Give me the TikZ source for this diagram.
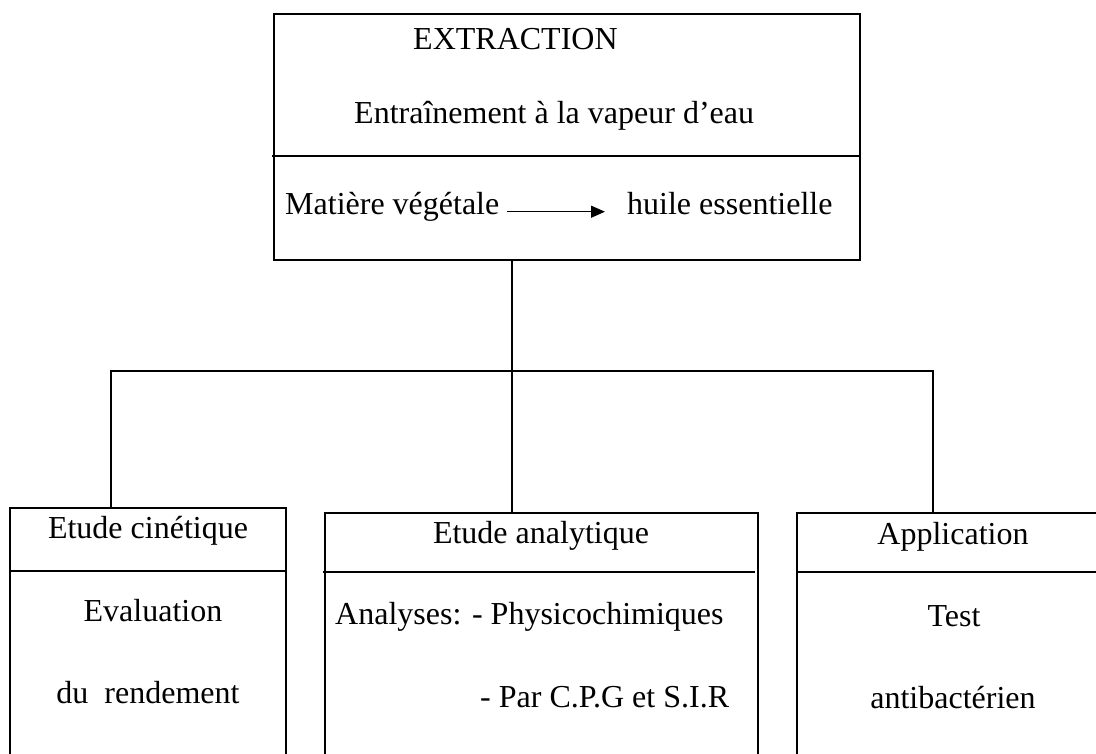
\documentclass[tikz,border=0pt]{standalone}
\usepackage{fontspec}
\setmainfont{Liberation Serif}
\usetikzlibrary{arrows.meta,positioning,calc}
\tikzstyle{boite}=[draw,line width=2.4pt,rectangle,inner sep=0pt]
\tikzstyle{texte}=[inner sep=0pt,font=\fontsize{32}{38}\selectfont]
\tikzstyle{trait}=[line width=1.7pt]

\begin{document}
\begin{tikzpicture}[x=1pt,y=-1pt]
\useasboundingbox (0,0) rectangle (1096,753);
\clip (0,0) rectangle (1096,753);
% les boites
\node [boite, minimum width=586pt, minimum height=246pt] (extr) at (567,137) {};
\node [boite, minimum width=276pt, minimum height=292pt] (cin) at (148,654) {};
\node [boite, minimum width=433pt, minimum height=287pt] (ana) at (541.5,656.5) {};
\node [boite, minimum width=343pt, minimum height=287pt] (app) at (968.5,656.5) {};
% separations
\draw [trait] (272,156) -- (extr.east |- 0,156);
\draw [trait] (cin.west |- 0,571) -- (cin.east |- 0,571);
\draw [trait] (323,572) -- (755,572);
\draw [trait] (app.west |- 0,572) -- (app.east |- 0,572);
% textes
\node [texte, anchor=base west] (titre) at (413,49) {EXTRACTION};
\node [texte, anchor=base west] (vapeur) at (354,123) {Entraînement à la vapeur d’eau};
\node [texte, anchor=base west] (matiere) at (285,214) {Matière végétale};
\node [texte, anchor=base west] (huile) at (627,214) {huile essentielle};
\draw [line width=1.3pt, -{Triangle[length=14pt,width=12pt]}] ([xshift=8pt]matiere.mid east) -- ([xshift=-22pt]huile.mid west);
\node [texte, anchor=base] (cinet) at (148,538) {Etude cinétique};
\node [texte, anchor=base] (evalu) at (153,621) {Evaluation};
\node [texte, anchor=base] (rend) at (148,703) {du~ rendement};
\node [texte, anchor=base] (analy) at (541,543) {Etude analytique};
\node [texte, anchor=base west] (physico) at (335,624) {Analyses: - Physicochimiques};
\node [texte, anchor=base west] (cpg) at (480,707) {- Par C.P.G et S.I.R};
\node [texte, anchor=base] (appli) at (953,544) {Application};
\node [texte, anchor=base] (test) at (954,626) {Test};
\node [texte, anchor=base] (antib) at (953,708) {antibactérien};
% liaisons
\coordinate (c0) at (512,260);
\coordinate (jct) at (512,371);
\coordinate (c1) at (111,508);
\coordinate (c2) at (512,513);
\coordinate (c3) at (933,513);
\draw [trait] (c0) -- (c2);
\draw [trait] (c1) |- (jct) -| (c3);
\end{tikzpicture}
\end{document}
